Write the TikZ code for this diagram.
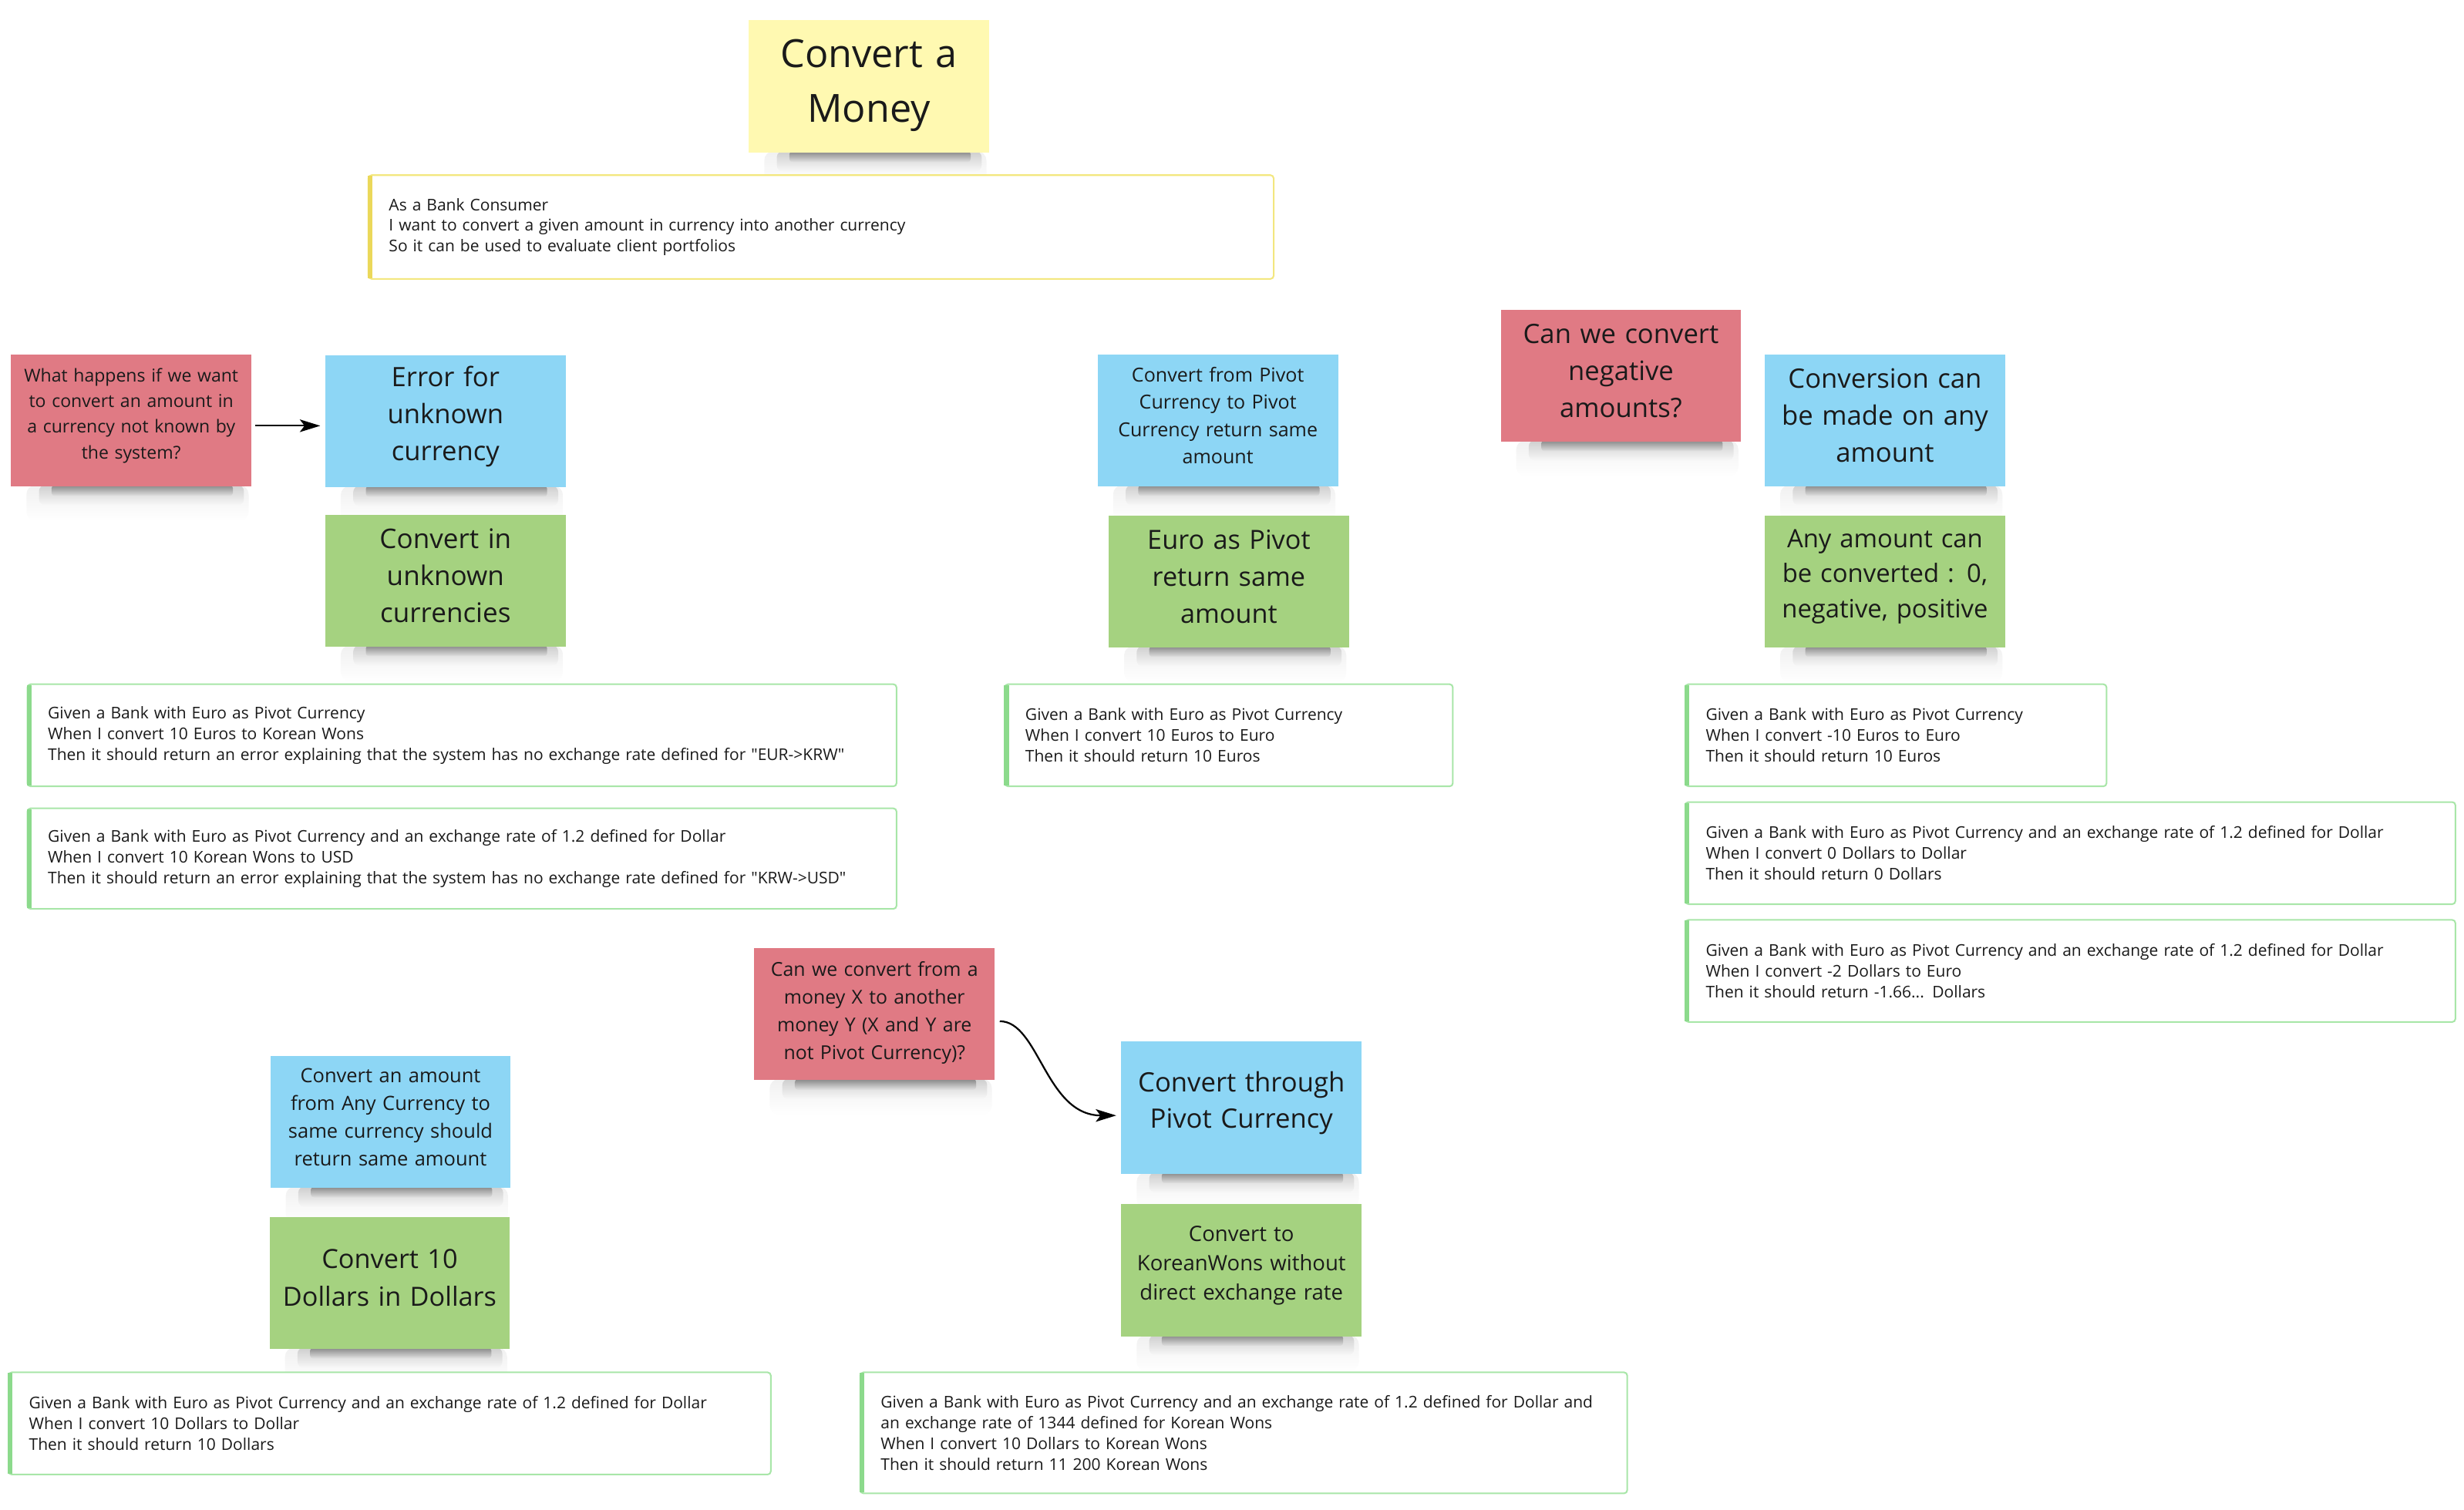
\documentclass[tikz,border=0pt]{standalone}
\usepackage{fontspec}
\setmainfont{Open Sans}[Ligatures=TeXOff]
\usetikzlibrary{calc,arrows.meta,fadings}
\pgfdeclarelayer{bg}
\pgfsetlayers{bg,main}
\definecolor{noteyellow}{HTML}{FFF9B1}
\definecolor{notered}{HTML}{E07A84}
\definecolor{noteblue}{HTML}{8DD6F5}
\definecolor{notegreen}{HTML}{A5D280}
\definecolor{ink}{HTML}{1A1A1A}
\definecolor{testborder}{HTML}{A8E6A8}
\definecolor{teststrip}{HTML}{8CDA8C}
\definecolor{storyborder}{HTML}{F3E77F}
\definecolor{storystrip}{HTML}{EBD85A}
\tikzfading[name=shfade, top color=transparent!0, bottom color=transparent!100]
\newcommand\fsz[2]{\fontsize{#1}{#2}\selectfont}
\newcommand\nshadow[1]{%
  \begin{pgfonlayer}{bg}
  \fill[black,opacity=0.06,path fading=shfade,rounded corners=6pt] ($(#1.south west)+(10,-1)$) rectangle ($(#1.south east)+(-2,22)$);
  \fill[black,opacity=0.14,path fading=shfade,rounded corners=4pt] ($(#1.south west)+(18,-1)$) rectangle ($(#1.south east)+(-5,12)$);
  \fill[black,opacity=0.34,path fading=shfade,rounded corners=2pt] ($(#1.south west)+(26,-1)$) rectangle ($(#1.south east)+(-12,6)$);
  \end{pgfonlayer}}
\newcommand\tstrip[2]{\draw[line width=3pt,#2] ([xshift=1.5pt,yshift=-1pt]#1.north west) -- ([xshift=1.5pt,yshift=1pt]#1.south west);}
\tikzset{
  sticky/.style={rectangle, minimum width=153pt, minimum height=84pt, text width=151pt, inner sep=1pt, align=center, text=ink, execute at end node={\par\vspace*{#1}}},
  sticky/.default=6pt,
  yellownote/.style={sticky=#1, fill=noteyellow},
  yellownote/.default=6pt,
  rednote/.style={sticky=#1, fill=notered},
  rednote/.default=6pt,
  bluenote/.style={sticky=#1, fill=noteblue},
  bluenote/.default=6pt,
  greennote/.style={sticky=#1, fill=notegreen},
  greennote/.default=6pt,
  testbox/.style={rectangle, anchor=north west, draw=testborder, line width=1pt, rounded corners=2pt, inner xsep=13pt, inner ysep=2pt, align=left, text=ink, fill=white, font=\fsz{10.3}{13.2}},
  storybox/.style={testbox, draw=storyborder},
  arrowline/.style={line width=1.1pt, -{Stealth[length=13pt,width=8pt,inset=3pt]}},
}
\begin{document}
\begin{tikzpicture}[x=1pt,y=-1pt]
\useasboundingbox (0,0) rectangle (1568,960.7);
\begin{pgfonlayer}{bg}
\fill[white] (0,0) rectangle (1568,960.7);
\end{pgfonlayer}

% sticky notes
\node[yellownote=1.5pt, font=\fsz{24.7}{35}] (title) at (553,55) {Convert a\\Money};
\nshadow{title}
\node[rednote, font=\fsz{11.3}{16.3}] (red1) at (83.5,267.5) {What happens if we want\\to convert an amount in\\a currency not known by\\the system?};
\nshadow{red1}
\node[bluenote, font=\fsz{17}{23.5}] (blue1) at (283.5,268) {Error for\\unknown\\currency};
\nshadow{blue1}
\node[greennote, font=\fsz{17.2}{23.5}] (green1) at (283.5,369.5) {Convert in\\unknown\\currencies};
\nshadow{green1}
\node[bluenote, font=\fsz{12.3}{17.3}] (blue2) at (775,267.5) {Convert from Pivot\\Currency to Pivot\\Currency return same\\amount};
\nshadow{blue2}
\node[greennote, font=\fsz{16.8}{23.5}] (green2) at (782,370) {Euro as Pivot\\return same\\amount};
\nshadow{green2}
\node[rednote, font=\fsz{17}{23.5}] (red3) at (1031.5,239) {Can we convert\\negative\\amounts?};
\nshadow{red3}
\node[bluenote, font=\fsz{17}{23.5}] (blue3) at (1199.5,267.5) {Conversion can\\be made on any\\amount};
\nshadow{blue3}
\node[greennote, font=\fsz{16.1}{22.5}] (green3) at (1199.5,370) {Any amount can\\be converted : 0,\\negative, positive};
\nshadow{green3}
\node[rednote=2pt, font=\fsz{12.2}{17.6}] (red4) at (556.5,645.5) {Can we convert from a\\money X to another\\money Y (X and Y are\\not Pivot Currency)?};
\nshadow{red4}
\node[bluenote, font=\fsz{17}{23}] (blue4) at (790,705) {Convert through\\Pivot Currency};
\nshadow{blue4}
\node[greennote, font=\fsz{13.5}{18.5}] (green4) at (790,808.5) {Convert to\\KoreanWons without\\direct exchange rate};
\nshadow{green4}
\node[bluenote, font=\fsz{12.5}{17.7}] (blue5) at (248.5,714) {Convert an amount\\from Any Currency  to\\same currency should\\return same amount};
\nshadow{blue5}
\node[greennote, font=\fsz{16.8}{24}] (green5) at (248,816.5) {Convert 10\\Dollars in Dollars};
\nshadow{green5}

% story and test boxes
\node[storybox, minimum width=576pt, text width=550pt, minimum height=66pt] (story) at (234,111) {As a Bank Consumer\\I want to convert a given amount in currency into another currency\\So it can be used to evaluate client portfolios};
\tstrip{story}{storystrip}
\node[testbox, minimum width=553pt, text width=527pt, minimum height=65pt] (t1) at (17,435) {Given a Bank with Euro as Pivot Currency\\When I convert 10 Euros to Korean Wons\\Then it should return an error explaining that the system has no exchange rate defined for "EUR->KRW"};
\tstrip{t1}{teststrip}
\node[testbox, minimum width=553pt, text width=527pt, minimum height=64pt] (t2) at (17,514) {Given a Bank with Euro as Pivot Currency and an exchange rate of 1.2 defined for Dollar\\When I convert 10 Korean Wons to USD\\Then it should return an error explaining that the system has no exchange rate defined for "KRW->USD"};
\tstrip{t2}{teststrip}
\node[testbox, minimum width=285pt, text width=259pt, minimum height=65pt] (t3) at (639,435) {Given a Bank with Euro as Pivot Currency\\When I convert 10 Euros to Euro\\Then it should return 10 Euros};
\tstrip{t3}{teststrip}
\node[testbox, minimum width=268pt, text width=242pt, minimum height=65pt] (t4) at (1072,435) {Given a Bank with Euro as Pivot Currency\\When I convert -10 Euros to Euro\\Then it should return 10 Euros};
\tstrip{t4}{teststrip}
\node[testbox, minimum width=490pt, text width=464pt, minimum height=65pt] (t5) at (1072,510) {Given a Bank with Euro as Pivot Currency and an exchange rate of 1.2 defined for Dollar\\When I convert 0 Dollars to Dollar\\Then it should return 0 Dollars};
\tstrip{t5}{teststrip}
\node[testbox, minimum width=490pt, text width=464pt, minimum height=65pt] (t6) at (1072,585) {Given a Bank with Euro as Pivot Currency and an exchange rate of 1.2 defined for Dollar\\When I convert -2 Dollars to Euro\\Then it should return -1.66... Dollars};
\tstrip{t6}{teststrip}
\node[testbox, minimum width=485pt, text width=459pt, minimum height=65pt] (t7) at (5,873) {Given a Bank with Euro as Pivot Currency and an exchange rate of 1.2 defined for Dollar\\When I convert 10 Dollars to Dollar\\Then it should return 10 Dollars};
\tstrip{t7}{teststrip}
\node[testbox, minimum width=488pt, text width=462pt, minimum height=77pt] (t8) at (547,873) {Given a Bank with Euro as Pivot Currency and an exchange rate of 1.2 defined for Dollar and\\an exchange rate of 1344 defined for Korean Wons\\When I convert 10 Dollars to Korean Wons\\Then it should return 11 200 Korean Wons};
\tstrip{t8}{teststrip}

% connectors
\draw[arrowline] ([xshift=2pt,yshift=-3.5pt]red1.east) -- ([xshift=-3pt,yshift=-3pt]blue1.west);
\draw[arrowline] ([xshift=3pt,yshift=-4.5pt]red4.east) .. controls +(25,0) and +(-45,0) .. ([xshift=-3pt,yshift=-5pt]blue4.west);
\end{tikzpicture}
\end{document}
